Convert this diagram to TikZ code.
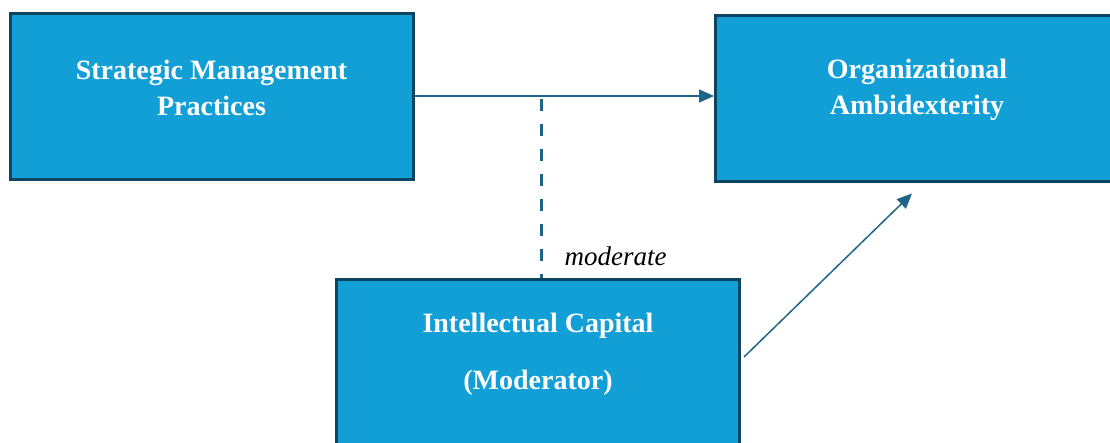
\documentclass[tikz,border=0pt]{standalone}
\usepackage{fontspec}
\setmainfont{Liberation Serif}
\usetikzlibrary{arrows.meta,positioning}
\definecolor{boxblue}{HTML}{129FD6}
\definecolor{boxedge}{HTML}{0D4460}
\definecolor{linkblue}{HTML}{1F6589}

\begin{document}
\begin{tikzpicture}[x=1pt,y=-1pt,
	box/.style={draw=boxedge,fill=boxblue,line width=3pt,minimum width=403pt,minimum height=166pt,inner sep=0pt},
	boxtext/.style={text=white,font=\bfseries\fontsize{28}{36}\selectfont,align=center},
	link/.style={draw=linkblue,line width=1.5pt,-{Triangle[length=15pt,width=13pt]}},
	dashline/.style={draw=linkblue,line width=2.5pt,dash pattern=on 12pt off 13pt}]
	% Frame
	\useasboundingbox (0,0) rectangle (1110,442);

	% Boxes
	\node[box] (sm) at (211.5,96) {};
	\node[box] (oa) at (917,98) {};
	\node[box] (ic) at (538,362) {};

	% Box texts
	\node[boxtext] (smtext) at ([yshift=8pt]sm.center) {Strategic Management\\Practices};
	\node[boxtext] (oatext) at ([yshift=8pt]oa.center) {Organizational\\Ambidexterity};
	\node[boxtext] (ictext) at ([yshift=8pt]ic.center) {Intellectual Capital\\[21pt](Moderator)};

	% Direct effect
	\draw[link] (sm.east) -- (sm.east -| oa.west);

	% Moderation
	\coordinate (dtop) at (541.7,99);
	\draw[dashline] (dtop) -- (dtop |- ic.north);
	\node[font=\itshape\fontsize{27}{32}\selectfont,anchor=base west] (mod) at (561,265) {moderate};

	% Moderator effect
	\draw[link] ([shift={(3pt,5pt)}]ic.east) -- ([shift={(-5pt,-11pt)}]oa.south);
\end{tikzpicture}
\end{document}
